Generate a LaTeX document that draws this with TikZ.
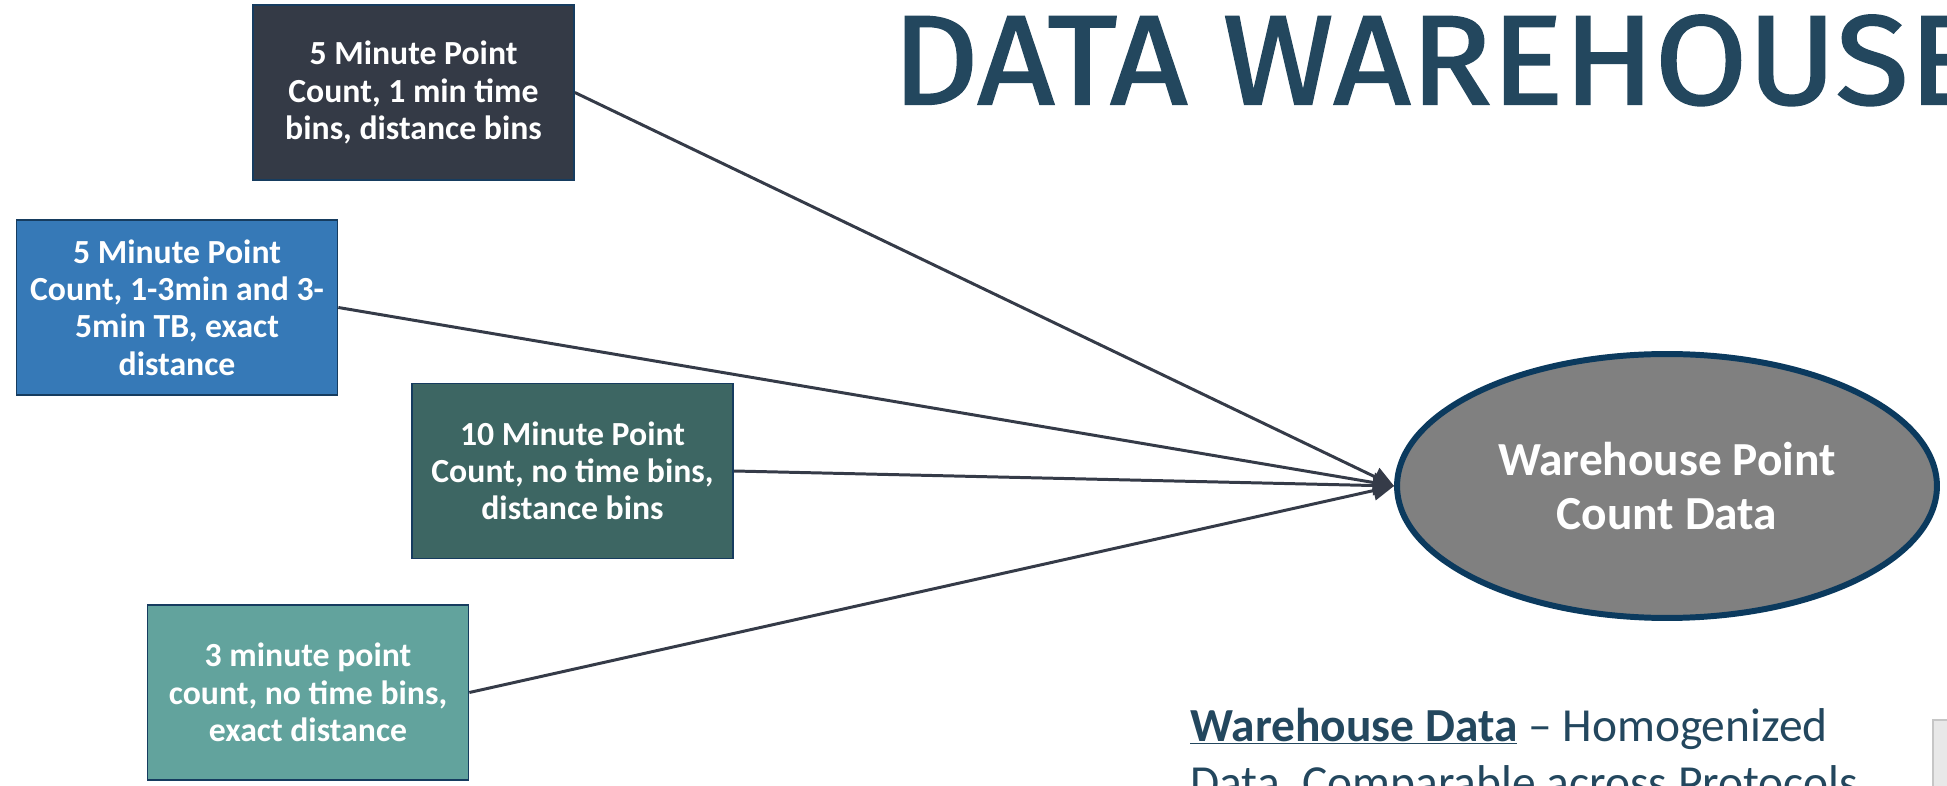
\documentclass[tikz,border=0pt]{standalone}
\usepackage{fontspec}
\setmainfont{Carlito}
\newfontfamily\titrefont[FakeBold=1.6]{Fira Sans}
\usetikzlibrary{arrows.meta,positioning,shapes.geometric}
\definecolor{charbon}{RGB}{52,58,70}
\definecolor{bleuvif}{RGB}{54,121,183}
\definecolor{vertfonce}{RGB}{61,102,99}
\definecolor{vertclair}{RGB}{98,163,157}
\definecolor{bordbleu}{RGB}{22,60,95}
\definecolor{ardoise}{RGB}{35,71,94}
\definecolor{flecheg}{RGB}{53,59,72}
\definecolor{gris}{RGB}{128,128,128}
\definecolor{marine}{RGB}{11,58,94}

\begin{document}
\begin{tikzpicture}[x=0.02cm, y=-0.02cm,
  protocole/.style={draw=bordbleu, line width=1pt, minimum width=6.42cm, minimum height=3.5cm,
    inner sep=0pt, text=white, align=center, font=\fontsize{19.2}{21.2}\selectfont\bfseries},
  fleche/.style={draw=flecheg, line width=1.7pt, -{Triangle[length=12pt,width=11pt]}}]
  \useasboundingbox (0,0) rectangle (1947,786);
  \clip (0,0) rectangle (1947,786);
  % Titre
  \node[anchor=south west, inner sep=0pt, text=ardoise] (titre) at (892,106)
    {\resizebox{21.76cm}{1.78cm}{\titrefont DATA WAREHOUSE}};
  % Protocoles
  \node[protocole, fill=charbon] (p5a) at (413.5,92.5) {5 Minute Point\\Count, 1 min time\\bins, distance bins};
  \node[protocole, fill=bleuvif] (p5b) at (177,307.5) {5 Minute Point\\Count, 1-3min and 3-\\5min TB, exact\\distance};
  \node[protocole, fill=vertfonce] (p10) at (572.5,471) {10 Minute Point\\Count, no time bins,\\distance bins};
  \node[protocole, fill=vertclair] (p3) at (308,692.5) {3 minute point\\count, no time bins,\\exact distance};
  % Entrepot
  \node[ellipse, draw=marine, line width=3.4pt, fill=gris, minimum width=10.8cm, minimum height=5.28cm,
    inner sep=0pt, text=white, align=center, font=\fontsize{27}{31}\selectfont\bfseries]
    (entrepot) at (1667,486) {Warehouse Point\\Count Data};
  % Fleches
  \foreach \p in {p5a,p5b,p10,p3}
    \draw[fleche] (\p.east) -- (entrepot.west);
  % Cadre gris
  \draw[fill=gray!18, draw=gray!45, line width=1pt] (1933,720) rectangle (1970,800);
  % Legende
  \node[anchor=base west, inner sep=0pt, text=ardoise, font=\fontsize{27}{32}\selectfont] (leg1) at (1190,741)
    {\underline{\textbf{Warehouse Data}} -- Homogenized};
  \node[anchor=base west, inner sep=0pt, text=ardoise, font=\fontsize{27}{32}\selectfont] (leg2) at (1190,798)
    {Data, Comparable across Protocols};
\end{tikzpicture}
\end{document}
